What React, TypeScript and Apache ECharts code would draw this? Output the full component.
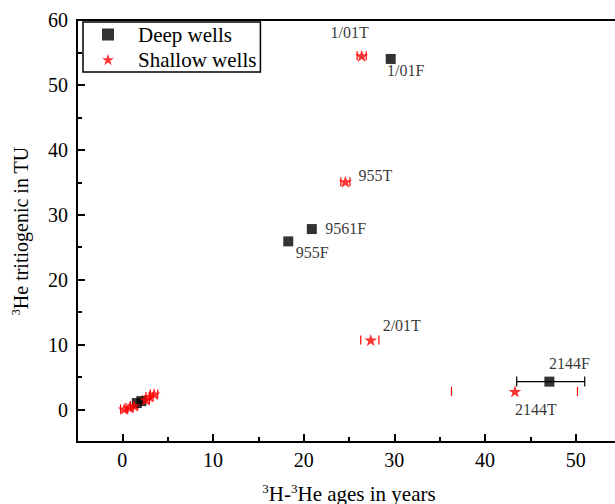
import React, { useEffect, useRef } from "react";
import * as echarts from "echarts";

// ---- data ----
const deepNames = ["1/01F", "9561F", "955F", "2144F", "", ""];
const deepAge = [29.6, 20.9, 18.3, 47.1, 1.6, 2.1];
const deepHe = [54.0, 27.8, 25.9, 4.3, 1.0, 1.3];
const deepAgeLow = [null, null, null, 43.5, null, null];
const deepAgeHigh = [null, null, null, 51.0, null, null];

const shallowNames = ["1/01T", "955T", "2/01T", "2144T", "", "", "", "", "", ""];
const shallowAge = [26.4, 24.6, 27.4, 43.3, 0.2, 0.8, 1.3, 2.6, 3.0, 3.5];
const shallowHe = [54.5, 35.1, 10.7, 2.8, 0.1, 0.3, 0.6, 1.5, 2.0, 2.4];
const shallowAgeLow = [25.9, 24.1, 26.3, 36.3, -0.2, 0.4, 0.9, 2.2, 2.6, 3.1];
const shallowAgeHigh = [26.9, 25.1, 28.3, 50.2, 0.6, 1.2, 1.7, 3.0, 3.4, 3.9];

const xRange = { min: -5, max: 55, interval: 5 };
const yRange = { min: -5, max: 60, interval: 5 };
const xMajorTicks = [0, 10, 20, 30, 40, 50];
const xMinorTicks = [5, 15, 25, 35, 45];
const yMajorTicks = [0, 10, 20, 30, 40, 50, 60];
const yMinorTicks = [5, 15, 25, 35, 45, 55];

// ---- style ----
const FONT = "Liberation Serif";
const labelOffsets: Record<string, [number, number]> = {
  "1/01F": [15, 12],
  "9561F": [34, -1],
  "955F": [24, 11],
  "2144F": [20, -18],
  "1/01T": [-12, -23],
  "955T": [30, -6],
  "2/01T": [31, -15],
  "2144T": [21, 18],
};
const STAR =
  "path://M100 0 L122.45 69.1 L195.11 69.1 L136.33 111.8 L158.78 180.9 L100 138.2 L41.22 180.9 L63.67 111.8 L4.89 69.1 L77.55 69.1 Z";

function pointData(names: string[], xs: number[], ys: number[]) {
  return xs.map((x, i) => {
    const n = names[i];
    const item: any = { value: [x, ys[i]], name: n };
    if (n) {
      item.label = {
        show: true,
        formatter: n,
        position: "inside",
        offset: labelOffsets[n],
        color: "#000",
        fontFamily: FONT,
        fontSize: 16,
      };
    }
    return item;
  });
}

function errData(lows: (number | null)[], highs: (number | null)[], ys: number[]) {
  const out: number[][] = [];
  lows.forEach((l, i) => {
    const h = highs[i];
    if (l != null && h != null) out.push([l, h, ys[i]]);
  });
  return out;
}

function errRender(color: string, drawLine: boolean, capH: number) {
  return (params: any, api: any) => {
    const lo = api.coord([api.value(0), api.value(2)]);
    const hi = api.coord([api.value(1), api.value(2)]);
    const children: any[] = [];
    const st = { stroke: color, lineWidth: 1.2 };
    if (drawLine) {
      children.push({ type: "line", shape: { x1: lo[0], y1: lo[1], x2: hi[0], y2: hi[1] }, style: st });
    }
    children.push({ type: "line", shape: { x1: lo[0], y1: lo[1] - capH / 2, x2: lo[0], y2: lo[1] + capH / 2 }, style: st });
    children.push({ type: "line", shape: { x1: hi[0], y1: hi[1] - capH / 2, x2: hi[0], y2: hi[1] + capH / 2 }, style: st });
    return { type: "group", children };
  };
}

const richTitle = (size: number) => ({
  n: { fontFamily: FONT, fontSize: size, color: "#000", lineHeight: size + 2 },
  sup: { fontFamily: FONT, fontSize: Math.round(size * 0.6), color: "#000", lineHeight: size + 2, verticalAlign: "top", padding: [0, 0, 7, 0] },
});

export default function App() {
  const ref = useRef<HTMLDivElement>(null);
  useEffect(() => {
    if (!ref.current) return;
    const chart = echarts.init(ref.current, undefined, { renderer: "svg" });
    const majorAxis = (ticks: number[], margin: number) => ({
      axisLine: { show: true, onZero: false, lineStyle: { color: "#000", width: 2 } },
      axisTick: { show: true, inside: true, length: 8, customValues: ticks, lineStyle: { color: "#000", width: 2 } },
      axisLabel: { show: true, customValues: ticks, fontFamily: FONT, fontSize: 20, color: "#000", margin },
      splitLine: { show: false },
    });
    const minorAxis = (ticks: number[]) => ({
      axisLine: { show: false, onZero: false },
      axisTick: { show: true, inside: true, length: 5, customValues: ticks, lineStyle: { color: "#000", width: 2 } },
      axisLabel: { show: false },
      splitLine: { show: false },
    });
    chart.setOption({
      animation: false,
      backgroundColor: "#fff",
      textStyle: { fontFamily: FONT },
      grid: {
        left: 77,
        top: 20,
        right: 19,
        bottom: 62,
        outerBoundsMode: "none",
        containLabel: false,
        show: true,
        borderColor: "#000",
        borderWidth: 2,
        backgroundColor: "transparent",
      },
      legend: {
        orient: "vertical",
        left: 83,
        top: 22,
        borderColor: "#000",
        borderWidth: 1.5,
        padding: [2, 4, 2, 19],
        itemWidth: 12,
        itemHeight: 12,
        itemGap: 4,
        textStyle: { fontFamily: FONT, fontSize: 21, color: "#000", padding: [0, 0, 0, 19] },
        data: [
          { name: "Deep wells", icon: "rect", itemStyle: { color: "#000" } },
          { name: "Shallow wells", icon: STAR, itemStyle: { color: "#f00" } },
        ],
      },
      xAxis: [
        {
          type: "value",
          position: "bottom",
          ...xRange,
          ...majorAxis(xMajorTicks, 8),
          name: "{sup|3}{n|H-}{sup|3}{n|He ages in years}",
          nameLocation: "middle",
          nameGap: 40,
          nameTextStyle: { rich: richTitle(21) },
        },
        { type: "value", position: "bottom", ...xRange, ...minorAxis(xMinorTicks) },
      ],
      yAxis: [
        {
          type: "value",
          position: "left",
          ...yRange,
          ...majorAxis(yMajorTicks, 9),
          name: "{sup|3}{n|He tritiogenic in TU}",
          nameLocation: "middle",
          nameGap: 45,
          nameRotate: 90,
          nameTextStyle: { rich: richTitle(20) },
        },
        { type: "value", position: "left", ...yRange, ...minorAxis(yMinorTicks) },
      ],
      series: [
        {
          type: "custom",
          name: "deepErr",
          renderItem: errRender("#000", true, 10),
          data: errData(deepAgeLow, deepAgeHigh, deepHe),
          encode: { x: [0, 1], y: 2 },
          silent: true,
          z: 1,
        },
        {
          type: "custom",
          name: "shallowErr",
          renderItem: errRender("#f00", false, 9),
          data: errData(shallowAgeLow, shallowAgeHigh, shallowHe),
          encode: { x: [0, 1], y: 2 },
          silent: true,
          z: 1,
        },
        {
          type: "scatter",
          name: "Deep wells",
          symbol: "rect",
          symbolSize: 10,
          itemStyle: { color: "#000" },
          data: pointData(deepNames, deepAge, deepHe),
          z: 3,
        },
        {
          type: "scatter",
          name: "Shallow wells",
          symbol: STAR,
          symbolKeepAspect: true,
          symbolSize: 13,
          itemStyle: { color: "#f00" },
          data: pointData(shallowNames, shallowAge, shallowHe),
          z: 4,
        },
      ],
    });
    return () => chart.dispose();
  }, []);
  return (
    <div style={{ position: "fixed", left: 0, top: 0, width: 615, height: 504, overflow: "hidden", background: "#fff" }}>
      <div ref={ref} style={{ width: 640, height: 504 }} />
    </div>
  );
}
